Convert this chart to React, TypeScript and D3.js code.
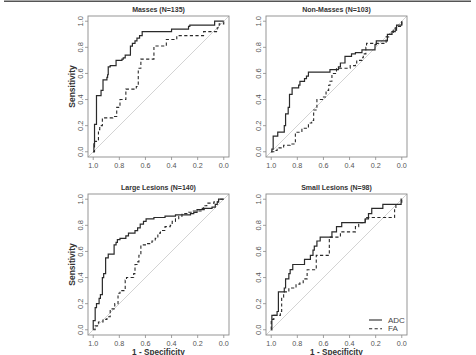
import React from "react";
import * as d3 from "d3";

type Pt = [number, number]; // [specificity, sensitivity]

// Masses (N=135)
const massesADC: Pt[] = [
  [1, 0], [0.995, 0.06], [0.99, 0.21], [0.975, 0.43], [0.94, 0.47], [0.925, 0.55],
  [0.895, 0.57], [0.89, 0.59], [0.885, 0.65], [0.87, 0.66], [0.825, 0.7], [0.78, 0.71],
  [0.77, 0.72], [0.755, 0.74], [0.715, 0.81], [0.7, 0.83], [0.68, 0.85], [0.665, 0.87],
  [0.645, 0.89], [0.625, 0.92], [0.4, 0.94], [0.27, 0.96], [0.26, 0.97], [0.07, 1.0], [0, 1],
];
const massesFA: Pt[] = [
  [1, 0], [0.99, 0.08], [0.975, 0.09], [0.96, 0.17], [0.95, 0.2], [0.93, 0.26],
  [0.85, 0.27], [0.82, 0.34], [0.795, 0.4], [0.75, 0.48], [0.67, 0.5], [0.655, 0.64],
  [0.635, 0.71], [0.535, 0.81], [0.44, 0.86], [0.36, 0.89], [0.155, 0.92], [0.05, 0.95],
  [0.035, 0.98], [0, 1],
];

// Non-Masses (N=103)
const nonMassesADC: Pt[] = [
  [1, 0], [0.995, 0.02], [0.985, 0.12], [0.95, 0.15], [0.9, 0.2], [0.89, 0.29],
  [0.87, 0.34], [0.86, 0.44], [0.84, 0.49], [0.79, 0.51], [0.78, 0.54], [0.745, 0.56],
  [0.73, 0.58], [0.715, 0.61], [0.55, 0.63], [0.485, 0.65], [0.47, 0.68], [0.435, 0.73],
  [0.385, 0.75], [0.355, 0.76], [0.305, 0.78], [0.205, 0.82], [0.195, 0.85], [0.11, 0.9],
  [0.075, 0.92], [0.05, 0.95], [0.04, 0.97], [0, 1],
];
const nonMassesFA: Pt[] = [
  [1, 0], [0.98, 0.01], [0.955, 0.03], [0.905, 0.05], [0.855, 0.06], [0.815, 0.15],
  [0.765, 0.18], [0.715, 0.22], [0.69, 0.24], [0.675, 0.32], [0.65, 0.4], [0.6, 0.42],
  [0.58, 0.47], [0.56, 0.51], [0.55, 0.54], [0.535, 0.6], [0.5, 0.64], [0.395, 0.66],
  [0.355, 0.68], [0.345, 0.7], [0.305, 0.72], [0.295, 0.75], [0.275, 0.8], [0.27, 0.83],
  [0.12, 0.88], [0.1, 0.9], [0.065, 0.93], [0.04, 0.96], [0, 1],
];

// Large Lesions (N=140)
const largeADC: Pt[] = [
  [1, 0], [1, 0.07], [0.985, 0.17], [0.975, 0.2], [0.955, 0.24], [0.945, 0.27],
  [0.93, 0.4], [0.92, 0.43], [0.905, 0.55], [0.885, 0.58], [0.84, 0.65], [0.825, 0.67],
  [0.815, 0.69], [0.795, 0.7], [0.75, 0.72], [0.73, 0.74], [0.68, 0.76], [0.66, 0.78],
  [0.64, 0.81], [0.615, 0.83], [0.595, 0.85], [0.535, 0.86], [0.45, 0.87], [0.37, 0.88],
  [0.255, 0.89], [0.23, 0.9], [0.205, 0.92], [0.15, 0.93], [0.09, 0.94], [0.065, 0.96],
  [0.05, 0.98], [0.04, 1.0], [0, 1],
];
const largeFA: Pt[] = [
  [1, 0], [0.985, 0.03], [0.96, 0.06], [0.925, 0.08], [0.895, 0.1], [0.87, 0.16],
  [0.835, 0.2], [0.81, 0.28], [0.795, 0.3], [0.755, 0.38], [0.745, 0.4], [0.69, 0.43],
  [0.68, 0.5], [0.66, 0.52], [0.65, 0.57], [0.635, 0.65], [0.59, 0.66], [0.55, 0.68],
  [0.525, 0.7], [0.505, 0.74], [0.485, 0.76], [0.45, 0.79], [0.41, 0.8], [0.395, 0.83],
  [0.37, 0.85], [0.345, 0.87], [0.32, 0.89], [0.27, 0.9], [0.245, 0.91], [0.165, 0.93],
  [0.155, 0.95], [0.13, 0.97], [0.075, 0.98], [0.04, 1.0], [0, 1],
];

// Small Lesions (N=98)
const smallADC: Pt[] = [
  [1, 0], [0.995, 0.11], [0.955, 0.14], [0.945, 0.29], [0.9, 0.32], [0.89, 0.39],
  [0.865, 0.43], [0.855, 0.46], [0.835, 0.5], [0.745, 0.54], [0.7, 0.57], [0.68, 0.61],
  [0.67, 0.64], [0.65, 0.68], [0.625, 0.71], [0.535, 0.75], [0.5, 0.79], [0.46, 0.82],
  [0.28, 0.85], [0.255, 0.89], [0.23, 0.93], [0.145, 0.96], [0.005, 1.0], [0, 1],
];
const smallFA: Pt[] = [
  [1, 0], [1, 0.08], [0.98, 0.11], [0.93, 0.14], [0.92, 0.25], [0.905, 0.29],
  [0.865, 0.32], [0.81, 0.35], [0.78, 0.36], [0.755, 0.39], [0.725, 0.46], [0.655, 0.57],
  [0.555, 0.71], [0.47, 0.75], [0.355, 0.79], [0.33, 0.82], [0.28, 0.86], [0.055, 0.93],
  [0.045, 0.96], [0, 1],
];

const panelTitles = ["Masses (N=135)", "Non-Masses (N=103)", "Large Lesions (N=140)", "Small Lesions (N=98)"];
const adcSeries = [massesADC, nonMassesADC, largeADC, smallADC];
const faSeries = [massesFA, nonMassesFA, largeFA, smallFA];
const tickValues = [0, 0.2, 0.4, 0.6, 0.8, 1.0];
const legendLabels = ["ADC", "FA"];

const W = 476;
const H = 355;
const SIZE = 141;
const colLeft = [88, 266];
const rowTop = [16, 194];
const FONT = "'Liberation Sans', Arial, Helvetica, sans-serif";
const CURVE = "#2a2a2a";

function Panel({ idx }: { idx: number }) {
  const col = idx % 2;
  const row = Math.floor(idx / 2);
  const L = colLeft[col];
  const T = rowTop[row];
  const x = d3.scaleLinear().domain([1.04, -0.04]).range([L, L + SIZE]);
  const y = d3.scaleLinear().domain([-0.04, 1.04]).range([T + SIZE, T]);
  const line = d3
    .line<Pt>()
    .x((d) => x(d[0]))
    .y((d) => y(d[1]))
    .curve(d3.curveStepAfter);
  const fmt = d3.format(".1f");
  const B = T + SIZE;
  return (
    <g>
      <text x={L + SIZE / 2} y={T - 4} textAnchor="middle" fontSize={7} fontWeight="bold" fill="#333" fontFamily={FONT}>
        {panelTitles[idx]}
      </text>
      {/* chance diagonal */}
      <line x1={x(1.04)} y1={y(-0.04)} x2={x(-0.04)} y2={y(1.04)} stroke="#c8c8c8" strokeWidth={0.8} />
      <path d={line(faSeries[idx]) ?? ""} fill="none" stroke={CURVE} strokeWidth={1.1} strokeDasharray="3.2,2.4" />
      <path d={line(adcSeries[idx]) ?? ""} fill="none" stroke={CURVE} strokeWidth={1.2} />
      <rect x={L} y={T} width={SIZE} height={SIZE} fill="none" stroke="#8a8a8a" strokeWidth={0.9} />
      {/* x axis */}
      {tickValues.map((t) => (
        <g key={"x" + t}>
          <line x1={x(t)} x2={x(t)} y1={B} y2={B + 3} stroke="#8a8a8a" strokeWidth={0.8} />
          <text x={x(t)} y={B + 10.8} textAnchor="middle" fontSize={7.2} fill="#555" fontFamily={FONT}>
            {fmt(t)}
          </text>
        </g>
      ))}
      {/* y axis */}
      {tickValues.map((t) => (
        <g key={"y" + t}>
          <line x1={L} x2={L - 3} y1={y(t)} y2={y(t)} stroke="#8a8a8a" strokeWidth={0.8} />
          <text
            transform={`translate(${L - 5.5},${y(t)}) rotate(-90)`}
            textAnchor="middle"
            fontSize={7.5}
            fill="#555"
            fontFamily={FONT}
          >
            {fmt(t)}
          </text>
        </g>
      ))}
      {col === 0 && (
        <text
          transform={`translate(${L - 13},${T + SIZE / 2}) rotate(-90)`}
          textAnchor="middle"
          fontSize={8.5}
          fontWeight="bold"
          fill="#333"
          fontFamily={FONT}
        >
          Sensitivity
        </text>
      )}
      {row === 1 && (
        <text x={L + SIZE / 2} y={B + 19.6} textAnchor="middle" fontSize={8.2} fontWeight="bold" fill="#333" fontFamily={FONT}>
          1 - Specificity
        </text>
      )}
      {idx === 3 && (
        <g>
          {legendLabels.map((lab, i) => (
            <g key={lab}>
              <line
                x1={L + 103}
                x2={L + 116}
                y1={B - 15 + i * 8.7}
                y2={B - 15 + i * 8.7}
                stroke={CURVE}
                strokeWidth={1.1}
                strokeDasharray={i === 1 ? "3.2,2.4" : undefined}
              />
              <text x={L + 122} y={B - 12.3 + i * 8.7} fontSize={8} fill="#444" fontFamily={FONT}>
                {lab}
              </text>
            </g>
          ))}
        </g>
      )}
    </g>
  );
}

export default function App() {
  return (
    <svg width={W} height={H} style={{ display: "block", position: "absolute", left: 0, top: 0, background: "#fff" }}>
      <rect x={0} y={0} width={W} height={H} fill="#fff" />
      <line x1={4} x2={471} y1={1.2} y2={1.2} stroke="#555" strokeWidth={1.4} />
      {[0, 1, 2, 3].map((i) => (
        <Panel key={i} idx={i} />
      ))}
    </svg>
  );
}
